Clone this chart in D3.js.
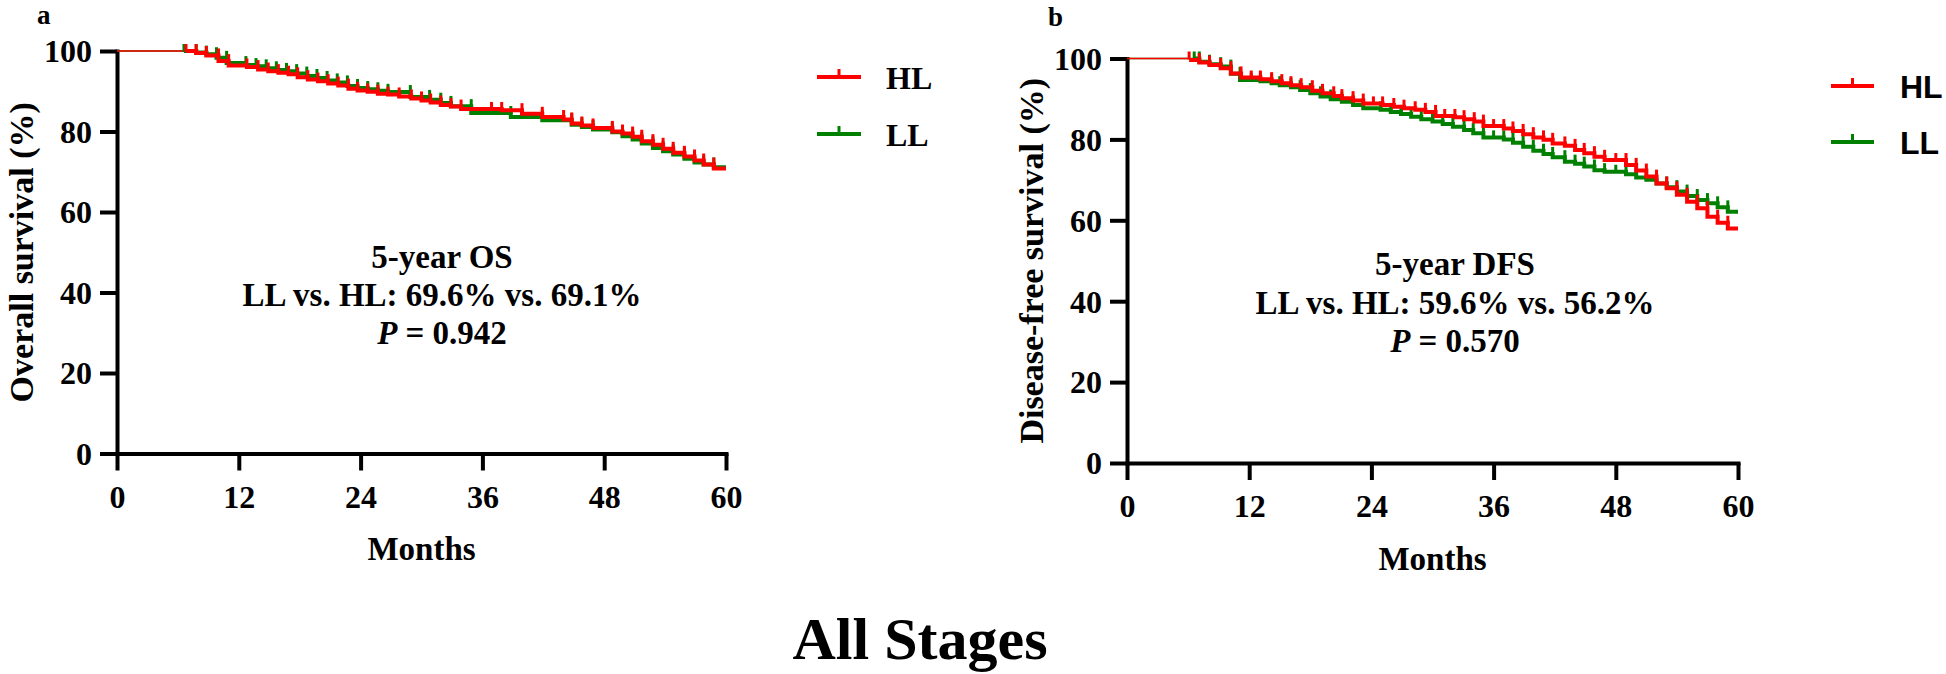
<!DOCTYPE html>
<html>
<head>
<meta charset="utf-8">
<script src="https://cdn.jsdelivr.net/npm/d3@7"></script>
<style>
  html, body { margin: 0; padding: 0; background: #fff; }
  svg { display: block; }
</style>
</head>
<body>
<svg id="chart" width="1946" height="674"></svg>
<script>
// ---------- DATA ----------
const monthTicks = [0, 12, 24, 36, 48, 60];
const pctTicks = [0, 20, 40, 60, 80, 100];
const groups = ["HL", "LL"];
const groupColors = ["#ff0000", "#008000"];

// Panel a: Overall survival (step start month, survival %)
const osHL_t = [6.8, 7.8, 8.8, 10.0, 11.0, 12.8, 13.9, 14.9, 15.9, 16.9, 17.8, 18.8, 19.8, 20.8, 21.8, 22.8, 23.7, 24.7, 25.7, 26.7, 27.8, 29.0, 30.0, 30.9, 31.9, 32.9, 33.9, 37.9, 39.9, 41.9, 44.0, 44.8, 45.8, 46.9, 48.8, 49.8, 50.8, 51.7, 52.8, 53.8, 54.8, 55.9, 56.9, 57.8, 58.8, 60];
const osHL_v = [100, 99.5, 98.9, 97.5, 96.4, 96.0, 95.4, 95.0, 94.6, 94.2, 93.5, 92.9, 92.5, 91.9, 91.4, 90.6, 90.2, 89.9, 89.4, 89.2, 88.7, 88.2, 87.7, 87.2, 86.6, 86.2, 85.6, 85.3, 84.4, 83.6, 83.0, 82.0, 81.5, 80.9, 80.0, 79.5, 78.7, 77.6, 76.7, 75.7, 74.7, 73.8, 72.8, 71.8, 70.8, 70.8];
const osHL_extraCensor = [36.9];

const osLL_t = [6.6, 7.8, 8.8, 9.8, 10.8, 12.7, 13.7, 14.7, 15.7, 16.7, 17.7, 18.7, 19.7, 20.7, 21.7, 22.7, 23.7, 24.7, 25.7, 26.7, 28.9, 30.8, 31.9, 32.9, 34.9, 38.8, 41.9, 44.8, 45.8, 46.9, 48.8, 49.8, 50.8, 51.7, 52.8, 53.8, 54.8, 55.9, 56.9, 57.8, 58.8, 60];
const osLL_v = [100, 99.6, 99.2, 98.3, 97.0, 96.5, 96.2, 95.7, 95.3, 95.0, 94.4, 93.8, 93.3, 92.7, 92.2, 91.3, 90.8, 90.5, 90.1, 89.8, 88.6, 87.9, 87.1, 86.3, 84.6, 83.6, 82.8, 81.7, 81.1, 80.5, 79.8, 78.8, 78.0, 77.0, 75.9, 75.1, 74.3, 73.2, 72.3, 71.8, 71.1, 71.1];
const osLL_extraCensor = [36.9];

// Panel b: Disease-free survival
const dfsHL_t = [6.1, 7.1, 8.1, 9.2, 10.2, 11.2, 13.1, 14.2, 15.2, 16.1, 17.1, 18.2, 19.2, 20.3, 21.1, 22.2, 23.2, 25.1, 26.2, 27.2, 28.3, 29.3, 30.3, 32.2, 33.1, 34.1, 35.0, 37.0, 37.9, 38.9, 39.9, 40.9, 41.8, 43.0, 44.0, 44.9, 45.9, 46.9, 49.0, 50.0, 51.0, 52.0, 53.0, 54.0, 55.0, 56.0, 57.0, 58.0, 59.0, 60];
const dfsHL_v = [99.6, 99.0, 98.4, 97.6, 96.3, 95.3, 94.9, 94.4, 93.9, 93.4, 92.9, 92.0, 91.4, 90.7, 90.2, 89.6, 88.9, 88.5, 88.1, 87.7, 87.3, 86.8, 85.8, 85.5, 85.0, 84.4, 83.3, 82.7, 82.1, 81.3, 80.5, 79.9, 79.0, 78.4, 77.4, 76.6, 75.7, 74.9, 73.7, 72.3, 70.8, 69.1, 67.9, 66.3, 64.6, 63.0, 60.9, 59.4, 58.0, 58.0];
const dfsHL_extraCensor = [12.2, 24.2, 31.2, 36.0, 48.0];

const dfsLL_t = [6.6, 7.1, 8.1, 9.2, 10.2, 11.1, 13.1, 14.2, 15.0, 16.1, 17.0, 18.0, 19.0, 20.0, 21.1, 22.2, 23.2, 24.9, 25.9, 26.9, 27.9, 28.9, 30.0, 31.0, 32.0, 33.1, 34.0, 35.0, 37.0, 37.9, 38.9, 39.9, 40.9, 41.8, 43.0, 44.0, 44.9, 45.9, 46.9, 49.0, 50.0, 51.0, 52.0, 53.0, 54.0, 55.0, 56.0, 57.0, 58.0, 59.0, 60];
const dfsLL_v = [100, 99.2, 98.6, 98.0, 96.2, 94.7, 94.4, 93.9, 93.4, 92.9, 92.2, 91.4, 90.6, 89.9, 89.3, 88.5, 87.7, 87.3, 86.8, 86.3, 85.6, 85.0, 84.4, 83.8, 83.1, 82.3, 81.5, 80.5, 80.0, 79.2, 78.2, 77.2, 76.4, 75.6, 74.5, 74.0, 73.3, 72.4, 72.0, 71.4, 70.6, 70.0, 69.1, 68.2, 67.1, 66.0, 65.0, 64.2, 63.2, 62.1, 62.1];
const dfsLL_extraCensor = [12.2, 36.0, 48.0];

// ---------- DRAW ----------
const svg = d3.select("#chart");
const SERIF = "'Liberation Serif','Times New Roman',serif";
const SANS = "'Liberation Sans',Arial,sans-serif";

function zip(t, v) { return t.map((d, i) => [d, v[i]]); }
function stepValue(t, v, time) {
  let val = 100;
  for (let i = 0; i < t.length; i++) { if (t[i] <= time) val = v[i]; }
  return val;
}

function panel(cfg) {
  const x = d3.scaleLinear().domain([0, 60]).range(cfg.xr);
  const y = d3.scaleLinear().domain([0, 100]).range(cfg.yr);
  const g = svg.append("g");

  // axes
  const gx = g.append("g").attr("transform", `translate(0,${y(0)})`)
    .call(d3.axisBottom(x).tickValues(monthTicks).tickSize(17).tickSizeOuter(0).tickFormat(d3.format("d")));
  const gy = g.append("g").attr("transform", `translate(${x(0)},0)`)
    .call(d3.axisLeft(y).tickValues(pctTicks).tickSize(17).tickSizeOuter(0).tickFormat(d3.format("d")));
  [gx, gy].forEach(a => {
    a.select(".domain").attr("stroke", "#000").attr("stroke-width", 4).attr("stroke-linecap", "square");
    a.selectAll(".tick line").attr("stroke", "#000").attr("stroke-width", 4);
    a.selectAll(".tick text").attr("fill", "#000").style("font-family", SERIF)
      .style("font-weight", "bold").style("font-size", "32px");
  });
  gx.selectAll(".tick text").attr("y", 54).attr("dy", null);
  gy.selectAll(".tick text").attr("x", -25).attr("dy", "0.34em");

  // series (green first, red on top)
  const line = d3.line().x(d => x(d[0])).y(d => y(d[1])).curve(d3.curveStepAfter);
  const order = [1, 0];
  // thin initial segments at 100%
  order.forEach(k => {
    const s = cfg.series[k];
    g.append("path").datum([[0, 100], [s.t[0], 100]])
      .attr("d", line).attr("fill", "none").attr("stroke", groupColors[k]).attr("stroke-width", 1.6);
  });
  order.forEach(k => {
    const s = cfg.series[k];
    g.append("path").datum(zip(s.t, s.v))
      .attr("d", line).attr("fill", "none").attr("stroke", groupColors[k])
      .attr("stroke-width", 4).attr("stroke-linejoin", "miter");
    // censor marks: at each drop and extra positions
    const marks = s.t.slice(0, -1).map((tt, i) => [tt, i === 0 ? 100 : s.v[i - 1]])
      .concat(s.extra.map(e => [e, stepValue(s.t, s.v, e)]));
    g.selectAll(null).data(marks).enter().append("line")
      .attr("x1", d => x(d[0])).attr("x2", d => x(d[0]))
      .attr("y1", d => y(d[1]) + 1).attr("y2", d => y(d[1]) - 7)
      .attr("stroke", groupColors[k]).attr("stroke-width", 3);
  });

  // panel letter
  svg.append("text").attr("x", cfg.letterPos[0]).attr("y", cfg.letterPos[1])
    .style("font-family", SERIF).style("font-weight", "bold").style("font-size", "27px")
    .text(cfg.letter);

  // y label
  svg.append("text").attr("transform", `translate(${cfg.yLabelX},${(y(0) + y(100)) / 2}) rotate(-90)`)
    .attr("text-anchor", "middle")
    .style("font-family", SERIF).style("font-weight", "bold").style("font-size", "34px")
    .text(cfg.yLabel);

  // x label
  svg.append("text").attr("x", (x(0) + x(60)) / 2).attr("y", cfg.xLabelY)
    .attr("text-anchor", "middle")
    .style("font-family", SERIF).style("font-weight", "bold").style("font-size", "33px")
    .text("Months");

  // annotation
  const ann = svg.append("g").style("font-family", SERIF).style("font-weight", "bold")
    .style("font-size", "33px").attr("text-anchor", "middle");
  ann.append("text").attr("x", cfg.annX).attr("y", cfg.annY[0]).text(cfg.ann[0]);
  ann.append("text").attr("x", cfg.annX).attr("y", cfg.annY[1]).text(cfg.ann[1]);
  const p = ann.append("text").attr("x", cfg.annX).attr("y", cfg.annY[2]);
  p.append("tspan").style("font-style", "italic").text("P");
  p.append("tspan").text(" = " + cfg.ann[2]);

  // legend
  const lg = svg.append("g");
  groups.forEach((name, k) => {
    const ly = cfg.legY[k];
    lg.append("line").attr("x1", cfg.legX[0]).attr("x2", cfg.legX[1]).attr("y1", ly).attr("y2", ly)
      .attr("stroke", groupColors[k]).attr("stroke-width", 4);
    const mx = (cfg.legX[0] + cfg.legX[1]) / 2;
    lg.append("line").attr("x1", mx).attr("x2", mx).attr("y1", ly).attr("y2", ly - 8)
      .attr("stroke", groupColors[k]).attr("stroke-width", 3);
    lg.append("text").attr("x", cfg.legTextX).attr("y", ly + cfg.legTextDy)
      .style("font-family", cfg.legFont).style("font-weight", "bold").style("font-size", "32px")
      .text(name);
  });
}

panel({
  xr: [117, 726], yr: [453.5, 51],
  series: [
    { t: osHL_t, v: osHL_v, extra: osHL_extraCensor },
    { t: osLL_t, v: osLL_v, extra: osLL_extraCensor }
  ],
  letter: "a", letterPos: [37, 24],
  yLabel: "Overall survival (%)", yLabelX: 33,
  xLabelY: 560,
  annX: 442, annY: [268, 306, 344],
  ann: ["5-year OS", "LL vs. HL: 69.6% vs. 69.1%", "0.942"],
  legX: [817, 861], legY: [77, 134], legTextX: 886, legTextDy: 12, legFont: SERIF
});

panel({
  xr: [1127, 1738], yr: [463, 58.5],
  series: [
    { t: dfsHL_t, v: dfsHL_v, extra: dfsHL_extraCensor },
    { t: dfsLL_t, v: dfsLL_v, extra: dfsLL_extraCensor }
  ],
  letter: "b", letterPos: [1048, 26],
  yLabel: "Disease-free survival (%)", yLabelX: 1043,
  xLabelY: 570,
  annX: 1455, annY: [275, 314, 352],
  ann: ["5-year DFS", "LL vs. HL: 59.6% vs. 56.2%", "0.570"],
  legX: [1831, 1874], legY: [86, 142], legTextX: 1900, legTextDy: 12, legFont: SANS
});

svg.append("text").attr("x", 920).attr("y", 659).attr("text-anchor", "middle")
  .style("font-family", SERIF).style("font-weight", "bold").style("font-size", "60px")
  .text("All Stages");
</script>
</body>
</html>
